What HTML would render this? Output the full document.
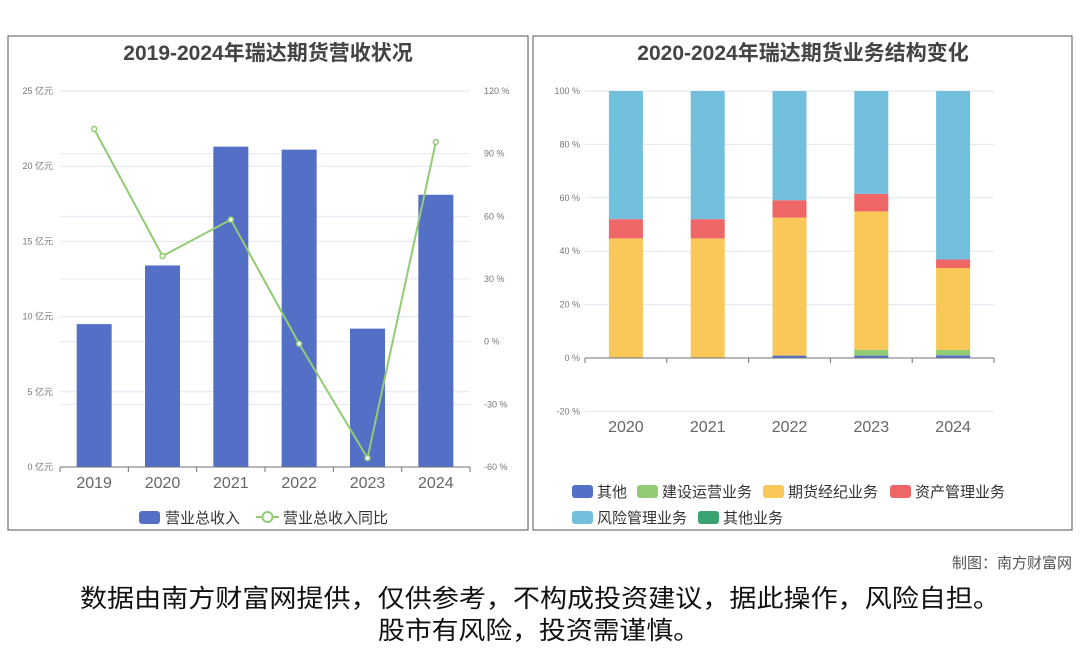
<!DOCTYPE html>
<html><head><meta charset="utf-8"><style>
body{margin:0;background:#fff;width:1080px;height:646px;overflow:hidden;font-family:"Liberation Sans","Noto Sans CJK SC",sans-serif}
svg text{font-family:"Liberation Sans","Noto Sans CJK SC",sans-serif}
</style></head><body>
<svg id="s" width="1080" height="646" xmlns="http://www.w3.org/2000/svg">
<rect x="8" y="36" width="520" height="494" fill="#fff" stroke="#555" stroke-width="1"/>
<rect x="533" y="36" width="539" height="494" fill="#fff" stroke="#555" stroke-width="1"/>
<text x="268" y="60" text-anchor="middle" font-size="21" font-weight="bold" fill="#444">2019-2024年瑞达期货营收状况</text>
<text x="803" y="60" text-anchor="middle" font-size="21" font-weight="bold" fill="#444">2020-2024年瑞达期货业务结构变化</text>
<g id="left"></g>
<g id="right"></g>
<text x="1072" y="568" text-anchor="end" font-size="15" fill="#555">制图：南方财富网</text>
<text x="80" y="607" font-size="25" fill="#111" textLength="920" lengthAdjust="spacingAndGlyphs">数据由南方财富网提供，仅供参考，不构成投资建议，据此操作，风险自担。</text>
<text x="378" y="639" font-size="25" fill="#111" textLength="322" lengthAdjust="spacingAndGlyphs">股市有风险，投资需谨慎。</text>
</svg>
<script>
const years1=['2019','2020','2021','2022','2023','2024'];
const revenue=[9.5,13.4,21.3,21.1,9.2,18.1];
const growth=[101.8,41,58.4,-1,-55.7,95.6];
const leftTicks=[0,5,10,15,20,25];
const rightTicks=[-60,-30,0,30,60,90,120];

const years2=['2020','2021','2022','2023','2024'];
const segOther=[0,0,0.9,0.9,1];
const segBuild=[0,0,0,2.2,2];
const segBroker=[44.8,44.8,51.7,51.8,30.7];
const segAsset=[7.2,7.2,6.5,6.6,3.2];
const segRisk=[48,48,40.9,38.5,63.1];
const segOtherBiz=[0,0,0,0,0];
const pctTicks=[-20,0,20,40,60,80,100];
const segNames=['其他','建设运营业务','期货经纪业务','资产管理业务','风险管理业务','其他业务'];
const segColors=['#5470c6','#91cc75','#fac858','#ee6666','#73c0de','#3ba272'];

const NS='http://www.w3.org/2000/svg';
function mk(p,tag,a,txt){const e=document.createElementNS(NS,tag);for(const k in a)e.setAttribute(k,a[k]);if(txt!==undefined)e.textContent=txt;p.appendChild(e);return e;}

// left chart
const L=document.getElementById('left');
const lx0=60,lx1=470,ly0=467,ly1=91;
const yL=v=>ly0-(v/25)*(ly0-ly1);
const yR=v=>ly0-((v+60)/180)*(ly0-ly1);
const bw=(lx1-lx0)/years1.length;
const xC=i=>lx0+bw*(i+0.5);
rightTicks.forEach(t=>{const g=mk(L,'line',{x1:lx0,x2:lx1,y1:yR(t),y2:yR(t),stroke:'#e6e9f2'});

const tx=mk(L,'text',{x:484,y:yR(t)+3,'font-size':9,fill:'#777'},t+' %');
});
leftTicks.forEach(t=>{const g=mk(L,'line',{x1:lx0,x2:lx1,y1:yL(t),y2:yL(t),stroke:'#e0e6f1'});

const tx=mk(L,'text',{x:53,y:yL(t)+3,'font-size':9,fill:'#777','text-anchor':'end'},t+' 亿元');
});
revenue.forEach((v,i)=>{const r=mk(L,'rect',{x:xC(i)-17.5,y:yL(v),width:35,height:ly0-yL(v),fill:'#5470c6'});
});
mk(L,'line',{x1:lx0,x2:lx1,y1:ly0,y2:ly0,stroke:'#6e7079'});
years1.forEach((y,i)=>{mk(L,'line',{x1:lx0+bw*i,x2:lx0+bw*i,y1:ly0,y2:ly0+5,stroke:'#6e7079'});
const tx=mk(L,'text',{x:xC(i),y:ly0+21,'font-size':16,fill:'#666','text-anchor':'middle'},y);
});
mk(L,'line',{x1:lx1,x2:lx1,y1:ly0,y2:ly0+5,stroke:'#6e7079'});
const pts=growth.map((v,i)=>xC(i)+','+yR(v)).join(' ');
const pl=mk(L,'polyline',{points:pts,fill:'none',stroke:'#91cc75','stroke-width':2});

growth.forEach((v,i)=>{const c=mk(L,'circle',{cx:xC(i),cy:yR(v),r:2.5,fill:'#fff',stroke:'#91cc75','stroke-width':1.5});
});
const lg1=mk(L,'rect',{x:139,y:511,width:21,height:13,rx:3,fill:'#5470c6'});

mk(L,'text',{x:165,y:523,'font-size':15,fill:'#333'},'营业总收入');
mk(L,'line',{x1:256,x2:279,y1:517,y2:517,stroke:'#91cc75','stroke-width':2});
const lg2=mk(L,'circle',{cx:267.5,cy:517,r:5,fill:'#fff',stroke:'#91cc75','stroke-width':2});

mk(L,'text',{x:283,y:523,'font-size':15,fill:'#333'},'营业总收入同比');

// right chart
const R=document.getElementById('right');
const rx0=585,rx1=994,r100=91,r0=358;
const yP=v=>r0-(v/100)*(r0-r100);
const cw=(rx1-rx0)/years2.length;
const xC2=i=>rx0+cw*(i+0.5);
pctTicks.forEach(t=>{const g=mk(R,'line',{x1:rx0,x2:rx1,y1:yP(t),y2:yP(t),stroke:'#e0e6f1'});

const tx=mk(R,'text',{x:580,y:yP(t)+3,'font-size':9,fill:'#777','text-anchor':'end'},t+' %');
});
const series=[segOther,segBuild,segBroker,segAsset,segRisk,segOtherBiz];
years2.forEach((y,i)=>{let acc=0;series.forEach((s,k)=>{const v=s[i];if(v>0){
const r=mk(R,'rect',{x:xC2(i)-17,y:yP(acc+v),width:34,height:yP(acc)-yP(acc+v),fill:segColors[k]});
}acc+=v;});});
mk(R,'line',{x1:rx0,x2:rx1,y1:r0,y2:r0,stroke:'#6e7079'});
years2.forEach((y,i)=>{mk(R,'line',{x1:rx0+cw*i,x2:rx0+cw*i,y1:r0,y2:r0+5,stroke:'#6e7079'});
const tx=mk(R,'text',{x:xC2(i),y:432,'font-size':16,fill:'#666','text-anchor':'middle'},y);
});
mk(R,'line',{x1:rx1,x2:rx1,y1:r0,y2:r0+5,stroke:'#6e7079'});
const legPos=[[572,491],[637,491],[763,491],[890,491],[572,517],[698,517]];
segNames.forEach((n,k)=>{const [x,y]=legPos[k];
const r=mk(R,'rect',{x:x,y:y-6,width:21,height:13,rx:3,fill:segColors[k]});

mk(R,'text',{x:x+25,y:y+6,'font-size':15,fill:'#333'},n);});
</script>
</body></html>
